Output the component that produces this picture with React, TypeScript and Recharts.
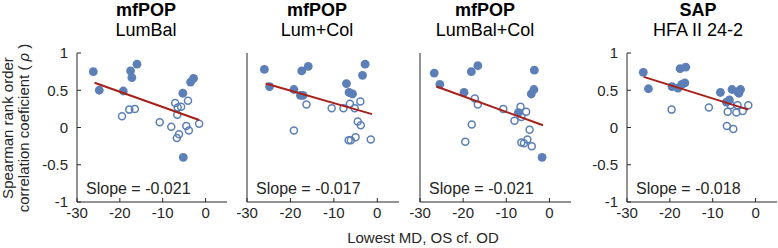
import React from "react";
import { Scatter, ScatterChart, XAxis, YAxis } from "recharts";

type Pt = { x: number; y: number };

// mfPOP LumBal
const lumBalFilled: Pt[] = [
  { x: -26.2, y: 0.75 }, { x: -24.8, y: 0.5 }, { x: -19.2, y: 0.49 }, { x: -17.5, y: 0.76 },
  { x: -17.2, y: 0.67 }, { x: -16.0, y: 0.85 }, { x: -5.3, y: 0.46 }, { x: -3.5, y: 0.61 },
  { x: -2.8, y: 0.66 }, { x: -5.2, y: -0.4 },
];
const lumBalOpen: Pt[] = [
  { x: -19.5, y: 0.15 }, { x: -17.8, y: 0.24 }, { x: -16.5, y: 0.25 }, { x: -10.7, y: 0.07 },
  { x: -8.0, y: 0.01 }, { x: -7.1, y: 0.33 }, { x: -6.5, y: 0.27 }, { x: -5.7, y: 0.28 },
  { x: -6.6, y: 0.17 }, { x: -4.1, y: 0.36 }, { x: -4.5, y: 0.02 }, { x: -3.9, y: -0.04 },
  { x: -6.2, y: -0.09 }, { x: -6.7, y: -0.14 }, { x: -1.5, y: 0.05 },
];
const lumBalFit: Pt[] = [{ x: -25.9, y: 0.6 }, { x: -1.5, y: 0.1 }];

// mfPOP Lum+Col
const lumColFilled: Pt[] = [
  { x: -26.0, y: 0.78 }, { x: -24.8, y: 0.55 }, { x: -17.4, y: 0.76 }, { x: -15.9, y: 0.82 },
  { x: -19.2, y: 0.51 }, { x: -17.7, y: 0.43 }, { x: -17.1, y: 0.43 }, { x: -7.1, y: 0.59 },
  { x: -6.5, y: 0.47 }, { x: -5.7, y: 0.45 }, { x: -3.4, y: 0.7 }, { x: -2.8, y: 0.85 },
];
const lumColOpen: Pt[] = [
  { x: -19.2, y: -0.04 }, { x: -16.3, y: 0.31 }, { x: -10.5, y: 0.26 }, { x: -7.8, y: 0.26 },
  { x: -6.3, y: 0.32 }, { x: -5.2, y: 0.26 }, { x: -3.9, y: 0.35 }, { x: -4.5, y: 0.08 },
  { x: -3.8, y: 0.03 }, { x: -5.0, y: -0.13 }, { x: -6.6, y: -0.17 }, { x: -6.1, y: -0.17 },
  { x: -1.5, y: -0.16 },
];
const lumColFit: Pt[] = [{ x: -25.7, y: 0.59 }, { x: -1.2, y: 0.18 }];

// mfPOP LumBal+Col
const lumBalColFilled: Pt[] = [
  { x: -26.7, y: 0.73 }, { x: -25.4, y: 0.58 }, { x: -19.8, y: 0.47 }, { x: -18.1, y: 0.75 },
  { x: -16.6, y: 0.83 }, { x: -3.5, y: 0.77 }, { x: -3.6, y: 0.51 }, { x: -4.2, y: 0.45 },
  { x: -7.2, y: 0.2 }, { x: -1.7, y: -0.4 },
];
const lumBalColOpen: Pt[] = [
  { x: -17.3, y: 0.39 }, { x: -16.6, y: 0.31 }, { x: -18.0, y: 0.04 }, { x: -19.5, y: -0.19 },
  { x: -10.7, y: 0.25 }, { x: -8.1, y: 0.09 }, { x: -6.7, y: 0.28 }, { x: -5.4, y: 0.21 },
  { x: -6.5, y: 0.14 }, { x: -4.6, y: -0.03 }, { x: -5.1, y: -0.16 }, { x: -6.5, y: -0.2 },
  { x: -5.9, y: -0.21 }, { x: -4.1, y: -0.25 },
];
const lumBalColFit: Pt[] = [{ x: -26.2, y: 0.55 }, { x: -1.5, y: 0.03 }];

// SAP HFA II 24-2
const sapFilled: Pt[] = [
  { x: -26.2, y: 0.74 }, { x: -25.0, y: 0.52 }, { x: -19.5, y: 0.55 }, { x: -17.6, y: 0.79 },
  { x: -16.3, y: 0.81 }, { x: -18.1, y: 0.53 }, { x: -17.2, y: 0.58 }, { x: -16.5, y: 0.6 },
  { x: -8.2, y: 0.47 }, { x: -6.8, y: 0.34 }, { x: -6.1, y: 0.37 }, { x: -5.5, y: 0.51 },
  { x: -4.2, y: 0.48 }, { x: -3.5, y: 0.51 }, { x: -3.9, y: 0.46 },
];
const sapOpen: Pt[] = [
  { x: -19.6, y: 0.24 }, { x: -10.9, y: 0.27 }, { x: -6.5, y: 0.21 }, { x: -5.8, y: 0.3 },
  { x: -4.5, y: 0.2 }, { x: -4.2, y: 0.3 }, { x: -3.0, y: 0.22 }, { x: -1.7, y: 0.3 },
  { x: -6.7, y: 0.02 }, { x: -5.2, y: -0.02 },
];
const sapFit: Pt[] = [{ x: -26.1, y: 0.68 }, { x: -1.7, y: 0.24 }];

const xTicks = [-30, -20, -10, 0];
const yTicks = [-1, -0.5, 0, 0.5, 1];
const titles = ["mfPOP", "mfPOP", "mfPOP", "SAP"];
const subtitles = ["LumBal", "Lum+Col", "LumBal+Col", "HFA II 24-2"];
const slopes = ["-0.021", "-0.017", "-0.021", "-0.018"];

const FONT = "'Liberation Sans', Arial, sans-serif";
const AXIS = "#262626";
const BLUE = "#5b7fb6";
const RED = "#a8201a";

const panels = [
  { left: 0, yw: 77, w: 150, filled: lumBalFilled, open: lumBalOpen, fit: lumBalFit, labels: true, tx: 146 },
  { left: 237, yw: 10, w: 152, filled: lumColFilled, open: lumColOpen, fit: lumColFit, labels: false, tx: 317 },
  { left: 410, yw: 10, w: 151, filled: lumBalColFilled, open: lumBalColOpen, fit: lumBalColFit, labels: false, tx: 485 },
  { left: 567, yw: 60, w: 150, filled: sapFilled, open: sapOpen, fit: sapFit, labels: true, tx: 698 },
];

const FilledDot = (p: any) => <circle cx={p.cx} cy={p.cy} r={4.4} fill={BLUE} />;
const OpenDot = (p: any) => (
  <circle cx={p.cx} cy={p.cy} r={3.5} fill="none" stroke={BLUE} strokeWidth={1.5} />
);
const NoDot = () => <g />;

export default function App() {
  return (
    <div style={{ position: "absolute", left: 0, top: 0, width: 778, height: 248, background: "#fff", fontFamily: FONT }}>
      {panels.map((p, i) => (
        <div key={i} style={{ position: "absolute", left: p.left, top: 0 }}>
          <ScatterChart width={p.yw + p.w + 1} height={232} margin={{ top: 53, right: 1, bottom: 0, left: 0 }}>
            <XAxis
              type="number"
              dataKey="x"
              domain={[-30, 5]}
              ticks={xTicks}
              height={30}
              tickSize={-4}
              tickMargin={9}
              axisLine={{ stroke: AXIS }}
              tickLine={{ stroke: AXIS }}
              tick={{ fill: AXIS, fontSize: 15, fontFamily: FONT }}
              allowDataOverflow
            />
            <YAxis
              type="number"
              dataKey="y"
              domain={[-1, 1]}
              ticks={yTicks}
              width={p.yw}
              tickSize={-4}
              tickMargin={13}
              axisLine={{ stroke: AXIS }}
              tickLine={{ stroke: AXIS }}
              tick={p.labels ? { fill: AXIS, fontSize: 15, fontFamily: FONT } : false}
              allowDataOverflow
            />
            <Scatter data={p.filled} shape={FilledDot} isAnimationActive={false} />
            <Scatter data={p.open} shape={OpenDot} isAnimationActive={false} />
            <Scatter data={p.fit} shape={NoDot} line={{ stroke: RED, strokeWidth: 2 }} isAnimationActive={false} />
          </ScatterChart>
        </div>
      ))}
      <svg width={778} height={248} style={{ position: "absolute", left: 0, top: 0, pointerEvents: "none" }}>
        {panels.map((p, i) => (
          <g key={i} fontFamily={FONT} fill="#000">
            <text x={p.tx} y={15.5} textAnchor="middle" fontSize={18} fontWeight="bold">
              {titles[i]}
            </text>
            <text x={p.tx} y={35.5} textAnchor="middle" fontSize={18}>
              {subtitles[i]}
            </text>
            <text x={p.left + p.yw + 9} y={194} fontSize={16} fill={AXIS}>
              Slope = {slopes[i]}
            </text>
          </g>
        ))}
        <text x={423} y={243} textAnchor="middle" fontSize={15} fontFamily={FONT} fill={AXIS}>
          Lowest MD, OS cf. OD
        </text>
        <g transform="rotate(-90)" fontFamily={FONT} fontSize={15} fill={AXIS} textAnchor="middle">
          <text x={-128} y={13}>Spearman rank order</text>
          <text x={-128} y={28.5}>
            correlation coeficient ( <tspan fontStyle="italic">ρ</tspan> )
          </text>
        </g>
      </svg>
    </div>
  );
}
